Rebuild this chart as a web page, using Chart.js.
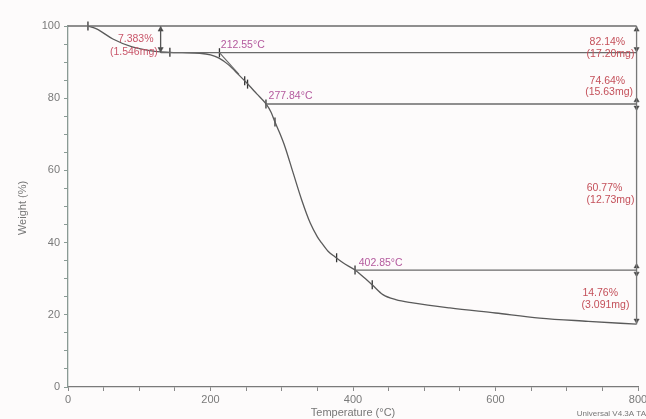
<!DOCTYPE html>
<html>
<head>
<meta charset="utf-8">
<script src="https://cdn.jsdelivr.net/npm/chart.js@4/dist/chart.umd.min.js"></script>
<style>
  html, body { margin: 0; padding: 0; background: #fdfbfb; }
  #wrap { width: 646px; height: 419px; }
</style>
</head>
<body>
<div id="wrap"><canvas id="tga"></canvas></div>
<script>
// TGA curve: temperature (°C) and weight (%)
const temps   = [28, 40, 63, 90, 125, 143, 160, 185, 200, 212, 225, 240, 250, 265, 278, 285, 290.5, 297, 304.6, 316, 328, 340, 350, 356, 365, 375, 386, 402.85, 415, 427, 442, 460, 484, 536, 600, 662, 730, 798];
const weights = [100, 99.2, 96.4, 94.2, 92.9, 92.7, 92.6, 92.45, 92.0, 91.1, 89.3, 86.4, 84.4, 81.2, 78.4, 76.1, 73.4, 70.4, 66.5, 59.3, 51.8, 45.4, 41.6, 39.9, 37.6, 36.0, 34.4, 32.4, 30.4, 28.3, 25.6, 24.2, 23.3, 21.9, 20.5, 19.1, 18.2, 17.4];

// analysis marks on the curve
const markTemps   = [28, 143, 212.55, 248, 252, 277.84, 290.5, 377, 402.85, 427];
const markWeights = [100, 92.7, 92.6, 84.8, 83.9, 78.4, 73.4, 35.8, 32.4, 28.3];

// step levels (horizontal lines) and where they start
const levelWeights = [100, 92.6, 78.4, 32.4];
const levelStarts  = [0, 130, 277.84, 402.85];
const endTemp = 798;
const residue = 17.4;

// onset tangent
const tangentTemps   = [212.55, 240];
const tangentWeights = [92.6, 86.6];

// arrow heads on the vertical measuring lines
const arrowTemps   = [130, 130, 798, 798, 798, 798, 798, 798, 798];
const arrowWeights = [99.0, 93.6, 99.0, 93.6, 79.4, 77.4, 33.4, 31.4, 18.4];
const arrowUp      = [true, false, true, false, true, false, true, false, false];

// text annotations
const notes = [
  { text: '7.383%',    x: 120,    y: 96.3, align: 'right', color: '#c9566a' },
  { text: '(1.546mg)', x: 126,    y: 92.9, align: 'right', color: '#c9566a' },
  { text: '212.55°C',  x: 214.5,  y: 94.6, align: 'left',  color: '#b45a9e' },
  { text: '277.84°C',  x: 281.5,  y: 80.6, align: 'left',  color: '#b45a9e' },
  { text: '402.85°C',  x: 408,    y: 34.3, align: 'left',  color: '#b45a9e' },
  { text: '82.14%',    x: 782,    y: 95.6, align: 'right', color: '#c4505a' },
  { text: '(17.20mg)', x: 795,    y: 92.3, align: 'right', color: '#c4505a' },
  { text: '74.64%',    x: 782,    y: 84.8, align: 'right', color: '#c4505a' },
  { text: '(15.63mg)', x: 793,    y: 81.7, align: 'right', color: '#c4505a' },
  { text: '60.77%',    x: 778,    y: 55.1, align: 'right', color: '#c4505a' },
  { text: '(12.73mg)', x: 795,    y: 51.8, align: 'right', color: '#c4505a' },
  { text: '14.76%',    x: 772,    y: 26.0, align: 'right', color: '#c4505a' },
  { text: '(3.091mg)', x: 788,    y: 22.7, align: 'right', color: '#c4505a' }
];

const xTickLabels = [0, 200, 400, 600, 800];
const yTickLabels = [0, 20, 40, 60, 80, 100];

const FONT = '"Liberation Sans", Arial, sans-serif';
const lineGrey = '#6a6a6a';

function pts(xs, ys) {
  return xs.map((x, i) => ({ x: x, y: ys[i] }));
}

function lineSet(data, color, width) {
  return {
    data: data,
    showLine: true,
    borderColor: color,
    borderWidth: width,
    pointRadius: 0,
    fill: false,
    clip: false
  };
}

const datasets = [];

// horizontal level lines
levelWeights.forEach((w, i) => {
  datasets.push(lineSet([{ x: levelStarts[i], y: w }, { x: endTemp, y: w }], lineGrey, 1.3));
});

// vertical measuring lines
datasets.push(lineSet([{ x: 130, y: levelWeights[0] }, { x: 130, y: levelWeights[1] }], '#555', 1.3));
datasets.push(lineSet([{ x: endTemp, y: levelWeights[0] }, { x: endTemp, y: residue }], '#777', 1.3));

// onset tangent
datasets.push(lineSet(pts(tangentTemps, tangentWeights), '#666', 1.1));

// the weight curve
datasets.push(Object.assign(lineSet(pts(temps, weights), '#5a5a5a', 1.3), { cubicInterpolationMode: 'monotone' }));

// marks on the curve
datasets.push({
  data: pts(markTemps, markWeights),
  showLine: false,
  pointStyle: 'line',
  rotation: 90,
  pointRadius: 4.5,
  borderColor: '#333',
  borderWidth: 1.3,
  clip: false
});

// arrow heads
datasets.push({
  data: pts(arrowTemps, arrowWeights),
  showLine: false,
  pointStyle: 'triangle',
  rotation: arrowUp.map(u => (u ? 0 : 180)),
  pointRadius: 3,
  backgroundColor: '#444',
  borderColor: '#444',
  borderWidth: 0.5,
  clip: false
});

const textPlugin = {
  id: 'textos',
  afterDatasetsDraw(chart) {
    const ctx = chart.ctx;
    const xs = chart.scales.x;
    const ys = chart.scales.y;
    ctx.save();
    ctx.textBaseline = 'middle';
    ctx.font = '10.5px ' + FONT;
    notes.forEach(n => {
      ctx.fillStyle = n.color;
      ctx.textAlign = n.align;
      ctx.fillText(n.text, xs.getPixelForValue(n.x), ys.getPixelForValue(n.y));
    });

    // axis titles and footer
    ctx.fillStyle = '#777';
    ctx.font = '11px ' + FONT;
    ctx.textAlign = 'center';
    ctx.fillText('Temperature (°C)', (chart.chartArea.left + chart.chartArea.right) / 2, 413);
    ctx.save();
    ctx.translate(23, 208);
    ctx.rotate(-Math.PI / 2);
    ctx.fillText('Weight (%)', 0, 0);
    ctx.restore();
    ctx.font = '8px ' + FONT;
    ctx.textAlign = 'right';
    ctx.fillText('Universal V4.3A TA', 646, 414);
    ctx.restore();
  }
};

new Chart(document.getElementById('tga'), {
  type: 'scatter',
  data: { datasets: datasets },
  options: {
    responsive: true,
    maintainAspectRatio: false,
    animation: false,
    layout: { padding: { top: 26, right: 8, left: 0, bottom: 0 } },
    plugins: {
      legend: { display: false },
      tooltip: { enabled: false }
    },
    scales: {
      x: {
        type: 'linear',
        min: 0,
        max: 800,
        afterFit: s => { s.height = 32; s.paddingRight = 0; s.paddingLeft = 0; },
        border: { color: '#7a7a7a', width: 1.3 },
        grid: { drawOnChartArea: false, drawTicks: true, tickLength: 4, tickColor: '#888' },
        ticks: {
          stepSize: 50,
          padding: 2,
          color: '#7a7a7a',
          font: { family: FONT, size: 11 },
          autoSkip: false,
          maxRotation: 0,
          callback: v => (xTickLabels.includes(v) ? String(v) : '')
        }
      },
      y: {
        type: 'linear',
        min: 0,
        max: 100,
        afterFit: s => { s.width = 68; s.paddingTop = 0; s.paddingBottom = 0; },
        border: { color: '#8a9a94', width: 1.3 },
        grid: { drawOnChartArea: false, drawTicks: true, tickLength: 4, tickColor: '#8a9a94' },
        ticks: {
          stepSize: 5,
          padding: 4,
          color: '#7a7a7a',
          font: { family: FONT, size: 11 },
          autoSkip: false,
          callback: v => (yTickLabels.includes(v) ? String(v) : '')
        }
      }
    }
  },
  plugins: [textPlugin]
});
</script>
</body>
</html>
